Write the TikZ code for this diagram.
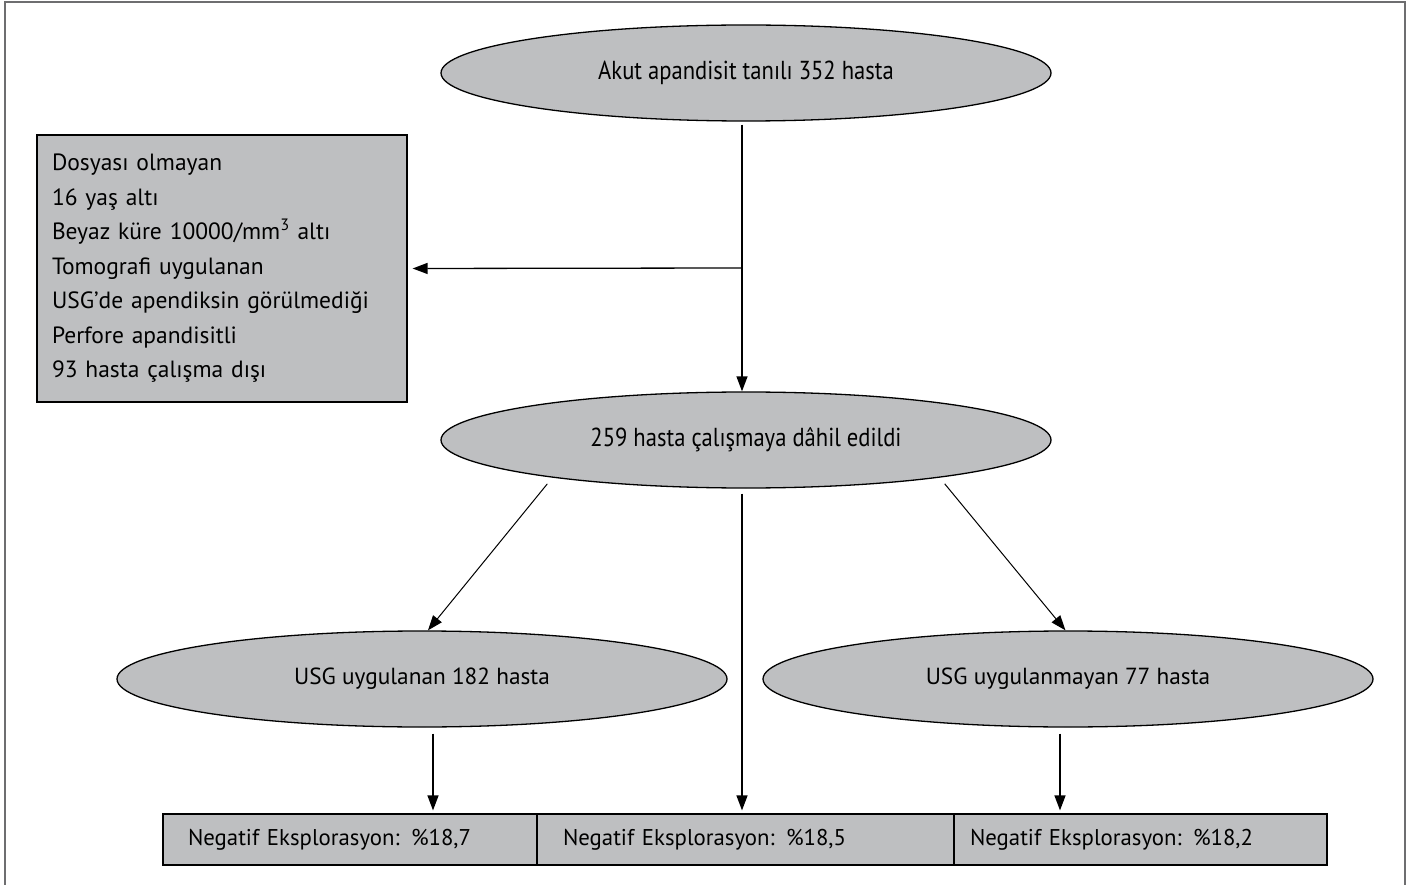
\documentclass[tikz,border=0pt]{standalone}
\usepackage{fontspec}
\setmainfont{PT Sans}
\newfontfamily\condfont[FakeStretch=0.87]{PT Sans}
\usetikzlibrary{shapes.geometric,arrows.meta,calc}
\definecolor{boxgray}{RGB}{190,191,193}
\definecolor{framegray}{RGB}{110,110,112}
\begin{document}
\begin{tikzpicture}[x=1pt,y=-1pt,
  oval/.style={ellipse,draw=black,line width=1.3pt,fill=boxgray,minimum width=610pt,minimum height=96pt,inner sep=0pt},
  condtext/.style={font=\condfont\fontsize{26}{30}\selectfont},
  plaintext/.style={font=\fontsize{23.3}{27}\selectfont},
  rbox/.style={rectangle,draw=black,line width=1.2pt,fill=boxgray,minimum height=51pt,align=left,font=\fontsize{22.8}{27}\selectfont},
  arr/.style={line width=1.3pt,-{Triangle[length=15pt,width=11pt]}},
  thin/.style={line width=1pt,-{Triangle[length=15pt,width=11pt]}}]
\useasboundingbox (0,0) rectangle (1414,885);
\draw[framegray,line width=1.5pt] (5,886) -- (5,2) -- (1405,2) -- (1405,886);

\node[oval,condtext] (top) at (746,73) {Akut apandisit tanılı 352 hasta};
\node[oval,condtext] (mid) at (746,440) {259 hasta çalışmaya dâhil edildi};
\node[oval,plaintext] (lb) at (422,679) {USG uygulanan 182 hasta};
\node[oval,plaintext] (rb) at (1068,679) {USG uygulanmayan 77 hasta};

\node[rectangle,draw=black,line width=1.2pt,fill=boxgray,minimum width=370pt,minimum height=267pt,
  inner xsep=15pt,text width=340pt,align=left,font=\fontsize{23.5}{34.5}\selectfont] (excl) at (222,268.5)
  {Dosyası olmayan\\16 yaş altı\\Beyaz küre 10000/mm\textsuperscript{3} altı\\Tomografi uygulanan\\USG’de apendiksin görülmediği\\Perfore apandisitli\\93 hasta çalışma dışı};

\node[rbox,minimum width=374pt,inner xsep=25pt,text width=324pt] (b1) at (350,839.5) {Negatif Eksplorasyon: \%18,7};
\node[rbox,minimum width=417pt,inner xsep=26pt,text width=365pt] (b2) at (745.5,839.5) {Negatif Eksplorasyon: \%18,5};
\node[rbox,minimum width=373pt,inner xsep=16pt,text width=341pt] (b3) at (1140.5,839.5) {Negatif Eksplorasyon: \%18,2};

\coordinate (spine) at (742,268);

\draw[arr,shorten <=3pt] (top.south -| spine) -- (mid.north -| spine);
\draw[arr,shorten >=5pt] (spine) -- (excl.east);
\draw[thin,shorten <=8pt] (mid.191.4) -- (lb.83);
\draw[thin,shorten <=8pt] (mid.349.2) -- (rb.93);
\draw[arr,shorten <=5pt,shorten >=3pt] (mid.south -| spine) -- (b2.north -| spine);
\draw[arr,shorten <=6pt,shorten >=3pt] ([xshift=11pt]lb.south) -- ([xshift=11pt]lb.south |- b1.north);
\draw[arr,shorten <=6pt,shorten >=3pt] ([xshift=-8pt]rb.south) -- ([xshift=-8pt]rb.south |- b3.north);
\end{tikzpicture}
\end{document}
